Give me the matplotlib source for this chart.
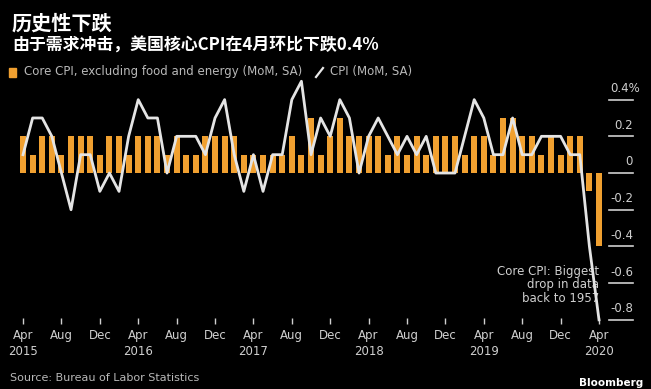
import matplotlib.pyplot as plt
import numpy as np
import pandas as pd
from matplotlib.patches import Rectangle
from matplotlib.lines import Line2D

plt.rcParams['font.family'] = ['DejaVu Sans']

months = pd.date_range('2015-04-01', periods=61, freq='MS')

# core CPI ex food & energy, MoM %, Apr 2015 - Apr 2020
core_cpi = [0.2, 0.1, 0.2, 0.2, 0.1, 0.2, 0.2, 0.2, 0.1, 0.2,
            0.2, 0.1, 0.2, 0.2, 0.2, 0.1, 0.2, 0.1, 0.1, 0.2,
            0.2, 0.2, 0.2, 0.1, 0.1, 0.1, 0.1, 0.1, 0.2, 0.1,
            0.3, 0.1, 0.2, 0.3, 0.2, 0.2, 0.2, 0.2, 0.1, 0.2,
            0.1, 0.2, 0.1, 0.2, 0.2, 0.2, 0.1, 0.2, 0.2, 0.1,
            0.3, 0.3, 0.2, 0.2, 0.1, 0.2, 0.1, 0.2, 0.2, -0.1,
            -0.4]
# headline CPI, MoM %
cpi = [0.1, 0.3, 0.3, 0.2, 0.0, -0.2, 0.1, 0.1, -0.1, 0.0,
       -0.1, 0.2, 0.4, 0.3, 0.3, 0.0, 0.2, 0.2, 0.2, 0.1,
       0.3, 0.4, 0.1, -0.1, 0.1, -0.1, 0.1, 0.1, 0.4, 0.5,
       0.1, 0.3, 0.2, 0.4, 0.3, 0.0, 0.2, 0.3, 0.2, 0.1,
       0.2, 0.1, 0.2, 0.0, 0.0, 0.0, 0.2, 0.4, 0.3, 0.1,
       0.1, 0.3, 0.1, 0.1, 0.2, 0.2, 0.2, 0.1, 0.1, -0.4,
       -0.8]

yticks = [0.4, 0.2, 0, -0.2, -0.4, -0.6, -0.8]
ylabels = ['0.4%', '0.2', '0', '-0.2', '-0.4', '-0.6', '-0.8']

orange = '#f0a030'
grey = '#cfcfcf'

W, H = 651, 389
fig = plt.figure(figsize=(W / 100, H / 100), dpi=100, facecolor='black')

# axes placement in pixels
x_left, x_right = 12.0, 608.6
y_top, y_bot = 72.1, 323.5
ax = fig.add_axes([x_left / W, 1 - y_bot / H, (x_right - x_left) / W, (y_bot - y_top) / H])
ax.set_facecolor('black')

x = np.arange(len(months))
ax.bar(x, core_cpi, width=0.62, color=orange, zorder=2)
ax.plot(x, cpi, color='#e4e4e4', lw=2.0, zorder=4, clip_on=False)

ax.set_xlim(-1.15, 61.0)
ax.set_ylim(-0.82, 0.55)

for s in ax.spines.values():
    s.set_visible(False)
ax.set_yticks([])

tick_pos = x[::4]
tick_lab = []
for m in months[::4]:
    if m.month == 4:
        tick_lab.append(m.strftime('%b') + '\n' + str(m.year))
    else:
        tick_lab.append(m.strftime('%b'))
ax.set_xticks(tick_pos)
ax.set_xticklabels(tick_lab, color=grey, fontsize=8.5, linespacing=1.25)
ax.tick_params(axis='x', direction='in', length=4, width=1, color=grey, pad=4)

# right hand value scale with short rules under each label
ytr = ax.get_yaxis_transform()
for v, lab in zip(yticks, ylabels):
    ax.plot([1.0, 1.041], [v, v], color=grey, lw=1.2, transform=ytr, clip_on=False)
    xt = 1.041 if lab != '0.4%' else 1.053
    ax.text(xt, v + 0.025, lab, transform=ytr, ha='right', va='bottom',
            color=grey, fontsize=8.5)

ax.text(60.0, -0.61, 'Core CPI: Biggest\ndrop in data\nback to 1957', ha='right',
        va='center', color=grey, fontsize=8.5, linespacing=1.05, zorder=3)

# titles
cjk = ['Noto Sans CJK SC', 'DejaVu Sans']
fig.text(12 / W, 1 - 23 / H, '历史性下跌', family=cjk, fontweight='bold',
         fontsize=14.5, color='white', va='center')
fig.text(12 / W, 1 - 46 / H, '由于需求冲击，美国核心CPI在4月环比下跌0.4%', family=cjk,
         fontweight='bold', fontsize=12.2, color='white', va='center')

# legend
fig.patches.append(Rectangle((9 / W, 1 - 77 / H), 7 / W, 9 / H, color=orange,
                             transform=fig.transFigure))
fig.text(24 / W, 1 - 72 / H, 'Core CPI, excluding food and energy (MoM, SA)',
         color='#b8b8b8', fontsize=8.5, va='center')
fig.lines.append(Line2D([316 / W, 323 / W], [1 - 77 / H, 1 - 68 / H], color='#e8e8e8',
                        lw=1.6, transform=fig.transFigure))
fig.text(330 / W, 1 - 72 / H, 'CPI (MoM, SA)', color='#b8b8b8', fontsize=8.5, va='center')

fig.text(10 / W, 1 - 378 / H, 'Source: Bureau of Labor Statistics', color='#b8b8b8',
         fontsize=8, va='center')
fig.text(643 / W, 1 - 383 / H, 'Bloomberg', color='white', fontsize=7.5,
         fontweight='bold', ha='right', va='center')

fig.savefig('out.png', dpi=100, facecolor='black')
